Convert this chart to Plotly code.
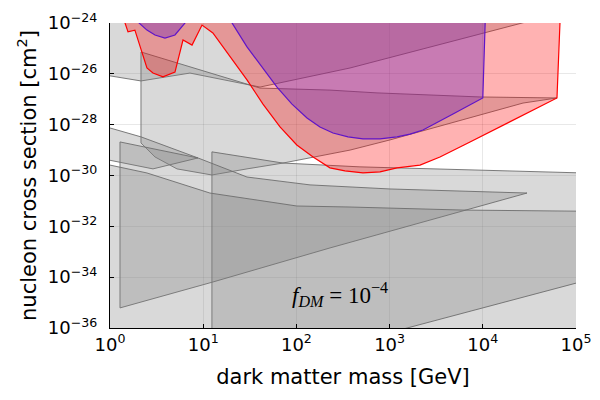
import numpy as np
import plotly.graph_objects as go

# ---- data: masses in GeV, cross sections as log10(sigma / cm^2) ----
# region A: upper-left bound (extends above the plot)
A_mass = [0.5, 1, 2.15, 7.21, 40.7, 376, 26400, 1.8e5, 1.8e5, 0.5]
A_logsig = [-26.08, -26.08, -26.28, -25.97, -26.52, -25.77, -24.0, -23.2, -20, -20]

# region B: band from 2 GeV to 6e4 GeV
B_mass = [2.15, 7.21, 40.7, 229, 733, 9330, 62500, 27000, 1010, 376, 71.8, 29.5, 12.4, 5.23, 3.04, 2.15]
B_logsig = [-25.14, -25.73, -26.56, -26.64, -26.75, -26.91, -26.95, -27.15, -28.60, -29.00,
            -29.51, -29.74, -29.98, -29.74, -29.27, -28.72]

# region C: small wedge at low mass
C_mass = [0.8, 1, 2.15, 8.79, 2.89, 1, 0.8]
C_logsig = [-28.05, -28.13, -28.48, -29.31, -29.74, -29.39, -29.33]

# region D: from 12 GeV, down to the bottom
D_mass = [12.4, 71.8, 481, 1e5, 3e5, 3e5, 12.4]
D_logsig = [-29.07, -29.51, -29.66, -29.90, -29.94, -38, -38]

# region E: triangle from 1.3 GeV to 3e4 GeV
E_mass = [1.28, 8.79, 29.5, 140, 1010, 29800, 229, 12.7, 1.28]
E_logsig = [-28.68, -29.31, -30.06, -30.37, -30.53, -30.69, -32.85, -34.19, -35.21]

# region F: long band at the bottom
F_mass = [0.78, 1, 2.49, 11.8, 101, 376, 6130, 1e5, 3e5, 3e5, 1e5, 1540, 79.3, 0.78]
F_logsig = [-29.49, -29.59, -29.90, -30.69, -31.20, -31.24, -31.36, -31.40, -31.42,
            -33.77, -34.23, -36.0, -37.26, -37.26]

# red region
R_mass = [1.35, 1.45, 1.56, 1.85, 2.49, 2.89, 3.70, 4.98, 6.07, 7.59, 9.71, 12.7, 29.5,
          43.8, 66.7, 101, 151, 188, 229, 332, 518, 789, 1200, 2120, 3470, 7290, 15300,
          32100, 62500, 67300, 69000]
R_logsig = [-23.49, -24.0, -24.35, -24.28, -25.77, -25.97, -26.12, -25.93, -24.67, -24.87,
            -24.08, -24.39, -26.24, -27.19, -28.09, -28.80, -29.27, -29.51, -29.70, -29.82,
            -29.90, -29.86, -29.70, -29.59, -29.27, -28.68, -28.09, -27.50, -26.95, -24.0,
            -23.49]

# purple region
P_mass = [2.0, 2.05, 2.49, 3.04, 3.89, 4.98, 6.38, 6.70, 19.4, 20.4, 29.5, 42.8, 61.9, 89.7,
          130, 179, 247, 358, 518, 789, 1200, 1655, 2280, 4790, 10000, 10600, 10800]
P_logsig = [-23.49, -24.0, -24.28, -24.47, -24.59, -24.47, -24.0, -23.49, -23.49, -24.0,
            -24.94, -25.73, -26.52, -27.19, -27.74, -28.09, -28.33, -28.48, -28.56, -28.56,
            -28.48, -28.37, -28.21, -27.58, -26.95, -24.0, -23.49]

x_tickvals = [1, 10, 100, 1000, 10000, 100000]
x_ticktext = ["10<sup>0</sup>", "10<sup>1</sup>", "10<sup>2</sup>", "10<sup>3</sup>",
              "10<sup>4</sup>", "10<sup>5</sup>"]
y_tickexp = [-36, -34, -32, -30, -28, -26, -24]

GRAY_FILL = "rgba(128,128,128,0.3)"
GRAY_LINE = "rgba(110,110,110,0.9)"

fig = go.Figure()


def add_region(mass, logsig, fill, line, width=1.0):
    fig.add_trace(go.Scatter(
        x=mass + [mass[0]], y=[10.0 ** v for v in logsig] + [10.0 ** logsig[0]],
        mode="lines", fill="toself", fillcolor=fill,
        line=dict(color=line, width=width), hoverinfo="skip", showlegend=False))


for m, s in [(A_mass, A_logsig), (B_mass, B_logsig), (C_mass, C_logsig),
             (D_mass, D_logsig), (E_mass, E_logsig), (F_mass, F_logsig)]:
    add_region(m, s, GRAY_FILL, GRAY_LINE)

add_region(R_mass, R_logsig, "rgba(255,0,0,0.3)", "rgb(255,0,0)", 1.2)
add_region(P_mass, P_logsig, "rgba(117,41,181,0.4)", "rgb(95,20,200)", 1.2)

fig.add_annotation(
    x=np.log10(290), y=-34.7, xref="x", yref="y",
    text="<i>f</i><sub><i>DM</i></sub> = 10<sup>−4</sup>",
    showarrow=False, font=dict(family="Liberation Serif", size=23, color="black"))

axis_common = dict(
    showgrid=True, gridcolor="rgba(0,0,0,0.09)", gridwidth=1,
    showline=True, linecolor="black", linewidth=1.2, mirror=False,
    ticks="inside", ticklen=4, tickcolor="black", tickwidth=1,
    zeroline=False, automargin=False,
    tickfont=dict(family="DejaVu Sans", size=18, color="black"),
)

fig.update_xaxes(type="log", range=[0, 5], tickvals=x_tickvals, ticktext=x_ticktext,
                 title=dict(text="dark matter mass [GeV]",
                            font=dict(family="DejaVu Sans", size=21, color="black"),
                            standoff=15),
                 **axis_common)
fig.update_yaxes(type="log", range=[-36, -24],
                 tickvals=[10.0 ** e for e in y_tickexp],
                 ticktext=["10<sup>−%d</sup>" % (-e) for e in y_tickexp],
                 ticklabelstandoff=8,
                 title=dict(text="nucleon cross section [cm<sup>2</sup>]",
                            font=dict(family="DejaVu Sans", size=21, color="black"),
                            standoff=5),
                 **axis_common)

fig.update_layout(
    width=600, height=400,
    margin=dict(l=102, r=32, t=15, b=80, autoexpand=False),
    paper_bgcolor="white", plot_bgcolor="white",
    showlegend=False,
)

fig.write_html("out.html")
